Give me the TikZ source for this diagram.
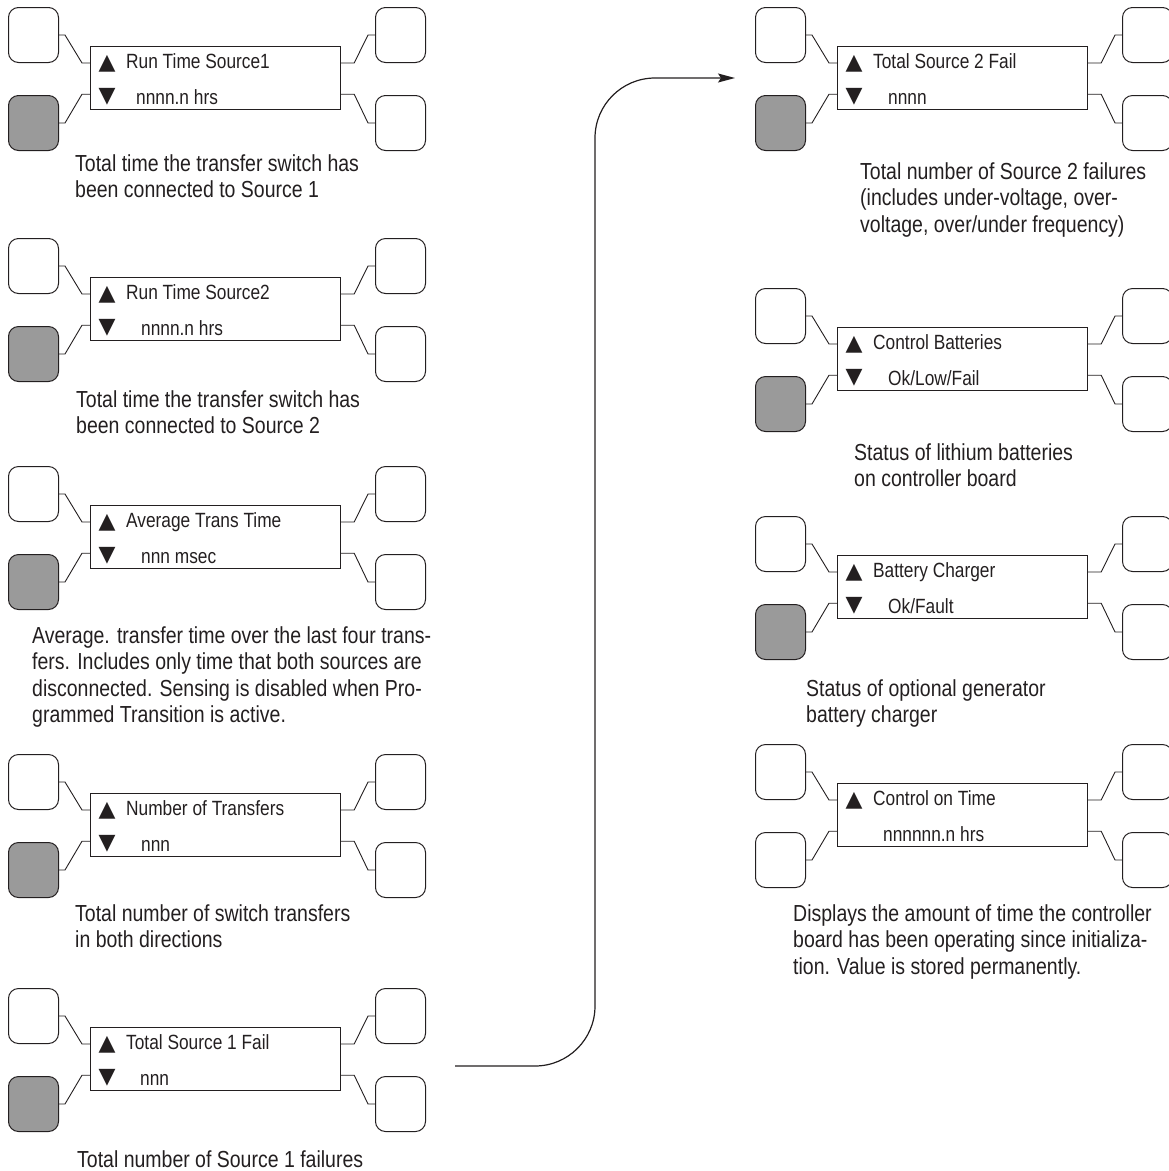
\documentclass[tikz,border=0pt]{standalone}
\usepackage{fontspec}
\setmainfont{Liberation Sans}[FakeStretch=0.84]
\newfontfamily\symfont{DejaVu Sans}
\usetikzlibrary{positioning,arrows.meta}
\definecolor{keygray}{HTML}{9A9A9A}
\definecolor{inkblack}{HTML}{231F20}

\begin{document}
\begin{tikzpicture}[
  x=1pt, y=-1pt,
  key/.style={draw=inkblack, line width=1pt, rounded corners=10pt, minimum width=50pt,
              minimum height=55pt, inner sep=0pt, anchor=north west},
  selkey/.style={key, fill=keygray},
  screen/.style={draw=inkblack, line width=1.2pt, minimum width=250pt, minimum height=63pt,
                 inner sep=0pt, anchor=north west},
  lcd/.style={font=\fontsize{20.6}{24}\selectfont, inner sep=0pt, anchor=base west, text=inkblack},
  tri/.style={font=\symfont\fontsize{22}{24}\selectfont, inner sep=0pt, text=inkblack},
  note/.style={font=\fontsize{23.2}{26.5}\selectfont, inner sep=0pt, anchor=base west,
               align=left, text=inkblack},
  wire/.style={draw=inkblack, line width=0.9pt},
  arr/.style={-{Stealth[length=17pt, width=9pt, inset=3pt]}, draw=inkblack, fill=none,
              line width=1.2pt, rounded corners=60pt}
]
\useasboundingbox (0,0) rectangle (1169,1171);

% display panels with their four keys
\foreach \n/\ox/\oy/\up/\down/\dx/\low/\sym in {
    a/90/46/{Run Time Source1}/{nnnn.n hrs}/46/selkey/▼,
    b/90/277/{Run Time Source2}/{nnnn.n hrs}/51/selkey/▼,
    c/90/505/{Average Trans Time}/{nnn msec}/51/selkey/▼,
    d/90/793/{Number of Transfers}/{nnn}/51/selkey/▼,
    e/90/1027/{Total Source 1 Fail}/{nnn}/50/selkey/▼,
    f/837/46/{Total Source 2 Fail}/{nnnn}/51/selkey/▼,
    g/837/327/{Control Batteries}/{Ok/Low/Fail}/51/selkey/▼,
    h/837/555/{Battery Charger}/{Ok/Fault}/51/selkey/▼,
    i/837/783/{Control on Time}/{nnnnnn.n hrs}/46/key/{}} {
  \begin{scope}[shift={(\ox,\oy)}]
    \node[screen] (\n-lcd) at (0,0) {};
    \node[key] (\n-k1) at (-82,-39) {};
    \node[\low] (\n-k2) at (-82,49) {};
    \node[key] (\n-k3) at (285,-39) {};
    \node[key] (\n-k4) at (285,49) {};
    \node[tri] (\n-up) at (17,18) {▲};
    \node[tri] (\n-dn) at (17,51) {\sym};
    \node[lcd] (\n-t1) at (36,22) {\up};
    \node[lcd] (\n-t2) at (\dx,58) {\down};
    \draw[wire] (\n-k1.east) -- ++(6,0) -- ([xshift=-8pt,yshift=-17pt]\n-lcd.north west)
                -- ([yshift=-17pt]\n-lcd.north west);
    \draw[wire] (\n-k2.east) -- ++(6,0) -- ([xshift=-8pt,yshift=16pt]\n-lcd.south west)
                -- ([yshift=16pt]\n-lcd.south west);
    \draw[wire] ([yshift=-17pt]\n-lcd.north east) -- ++(13,0) -- ([xshift=-7pt]\n-k3.west)
                -- (\n-k3.west);
    \draw[wire] ([yshift=16pt]\n-lcd.south east) -- ++(13,0) -- ([xshift=-7pt]\n-k4.west)
                -- (\n-k4.west);
  \end{scope}
}

% explanations (placed at the baseline of their last line)
\node[note] (a-note) at (75,197.5) {Total time the transfer switch has\\been connected to Source 1};
\node[note] (b-note) at (76,433.5) {Total time the transfer switch has\\been connected to Source 2};
\node[note] (c-note) at (32,722.5) {Average. transfer time over the last four trans-\\fers. Includes only time that both sources are\\disconnected. Sensing is disabled when Pro-\\grammed Transition is active.};
\node[note] (d-note) at (75,947.5) {Total number of switch transfers\\in both directions};
\node[note] (e-note) at (77,1167) {Total number of Source 1 failures};
\node[note] (f-note) at (860,232) {Total number of Source 2 failures\\(includes under-voltage, over-\\voltage, over/under frequency)};
\node[note] (g-note) at (854,486.5) {Status of lithium batteries\\on controller board};
\node[note] (h-note) at (806,722.5) {Status of optional generator\\battery charger};
\node[note] (i-note) at (793,974) {Displays the amount of time the controller\\board has been operating since initializa-\\tion. Value is stored permanently.};

% jump to the second column
\coordinate (jump-start) at (455,1066);
\coordinate (jump-mid) at (595,572);
\coordinate (jump-end) at (735,78);
\draw[arr] (jump-start) -| (jump-mid) |- (jump-end);
\end{tikzpicture}
\end{document}
